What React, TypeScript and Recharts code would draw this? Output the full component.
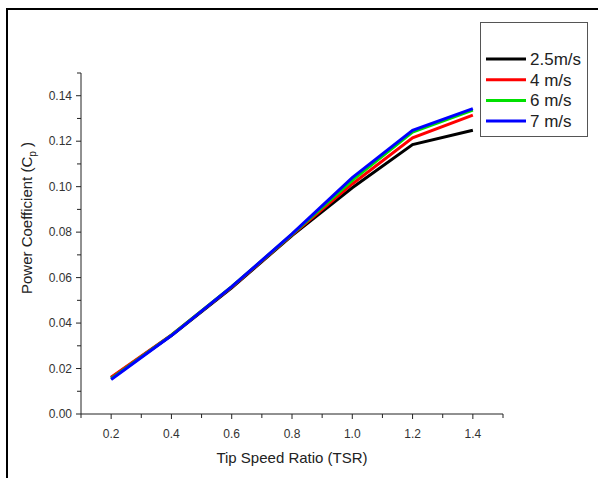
import { Legend, Line, LineChart, XAxis, YAxis } from 'recharts'

const tsr = [0.2, 0.4, 0.6, 0.8, 1.0, 1.2, 1.4]
const cp25 = [0.016, 0.0345, 0.0555, 0.0785, 0.0995, 0.1185, 0.1248]
const cp4 = [0.0162, 0.0348, 0.0558, 0.0788, 0.1012, 0.1215, 0.1315]
const cp6 = [0.0155, 0.0347, 0.056, 0.079, 0.1028, 0.124, 0.1337]
const cp7 = [0.0152, 0.0345, 0.056, 0.0792, 0.104, 0.1248, 0.1343]

const xTicks = [0.1, 0.2, 0.3, 0.4, 0.5, 0.6, 0.7, 0.8, 0.9, 1.0, 1.1, 1.2, 1.3, 1.4, 1.5]
const yTicks = [0, 0.01, 0.02, 0.03, 0.04, 0.05, 0.06, 0.07, 0.08, 0.09, 0.1, 0.11, 0.12, 0.13, 0.14, 0.15]

const series = [
  { key: 'v25', name: '2.5m/s', color: '#000000', values: cp25 },
  { key: 'v4', name: '4 m/s', color: '#ff0000', values: cp4 },
  { key: 'v6', name: '6 m/s', color: '#00e000', values: cp6 },
  { key: 'v7', name: '7 m/s', color: '#0000ff', values: cp7 },
]

const data = tsr.map((t, i) => {
  const row: Record<string, number> = { tsr: t }
  series.forEach((s) => (row[s.key] = s.values[i]))
  return row
})

const font = '"Liberation Sans", Arial, sans-serif'
const ink = '#222'

const XTick = ({ x, y, payload }: any) => {
  const v = payload.value
  const major = Math.round(v * 10) % 2 === 0 && v > 0.15 && v < 1.45
  return (
    <g>
      <line x1={x} x2={x} y1={y} y2={y + (major ? 5 : 4)} stroke={ink} />
      {major && (
        <text x={x} y={y + 24} textAnchor="middle" fontSize={12} fill="#333" fontFamily={font}>
          {v.toFixed(1)}
        </text>
      )}
    </g>
  )
}

const YTick = ({ x, y, payload }: any) => {
  const v = payload.value
  const major = Math.round(v * 100) % 2 === 0 && v < 0.145
  return (
    <g>
      <line x1={x - (major ? 5 : 4)} x2={x} y1={y} y2={y} stroke={ink} />
      {major && (
        <text x={x - 9} y={y} dy={4} textAnchor="end" fontSize={12} fill="#333" fontFamily={font}>
          {v.toFixed(2)}
        </text>
      )}
    </g>
  )
}

const LegendBox = ({ payload }: any) => (
  <svg width={108} height={116}>
    <rect x={0.5} y={0.5} width={107} height={114} fill="#fff" stroke="#555" />
    {(payload || []).map((p: any, i: number) => {
      const cy = 37 + i * 20.7
      return (
        <g key={p.value}>
          <line x1={6} x2={46} y1={cy} y2={cy} stroke={p.color} strokeWidth={3} />
          <text x={50} y={cy} dy={6} fontSize={17} fill={ink} fontFamily={font}>
            {p.value}
          </text>
        </g>
      )
    })}
  </svg>
)

export default function App() {
  return (
    <div style={{ position: 'absolute', left: 0, top: 0, width: 598, height: 478, background: '#fff' }}>
      <div
        style={{
          position: 'absolute',
          left: 6,
          top: 8,
          right: 0,
          bottom: 0,
          borderTop: '2px solid #000',
          borderLeft: '2px solid #000',
        }}
      />
      <LineChart width={598} height={478} data={data} margin={{ top: 73, right: 95, bottom: 24, left: 21 }}>
        <XAxis
          dataKey="tsr"
          type="number"
          domain={[0.1, 1.5]}
          ticks={xTicks}
          interval={0}
          height={40}
          tickSize={0}
          tickMargin={0}
          tickLine={false}
          tick={<XTick />}
          axisLine={{ stroke: ink }}
          label={{
            content: () => (
              <text x={292} y={463} textAnchor="middle" fontSize={15} fill={ink} fontFamily={font}>
                Tip Speed Ratio (TSR)
              </text>
            ),
          }}
        />
        <YAxis
          type="number"
          domain={[0, 0.15]}
          ticks={yTicks}
          interval={0}
          width={60}
          tickSize={0}
          tickMargin={0}
          tickLine={false}
          tick={<YTick />}
          axisLine={{ stroke: ink }}
          label={{
            content: () => (
              <text
                transform="translate(32,218) rotate(-90)"
                textAnchor="middle"
                fontSize={15}
                fill={ink}
                fontFamily={font}
              >
                Power Coefficient (C
                <tspan dy={4} fontSize={10}>
                  p
                </tspan>
                <tspan dy={-4}> )</tspan>
              </text>
            ),
          }}
        />
        <Legend
          layout="vertical"
          align="center"
          verticalAlign="middle"
          content={<LegendBox />}
          wrapperStyle={{ left: 480, top: 22, width: 108, height: 116 }}
        />
        {series.map((s) => (
          <Line
            key={s.key}
            dataKey={s.key}
            name={s.name}
            stroke={s.color}
            strokeWidth={3}
            type="linear"
            dot={false}
            activeDot={false}
            isAnimationActive={false}
          />
        ))}
      </LineChart>
    </div>
  )
}
